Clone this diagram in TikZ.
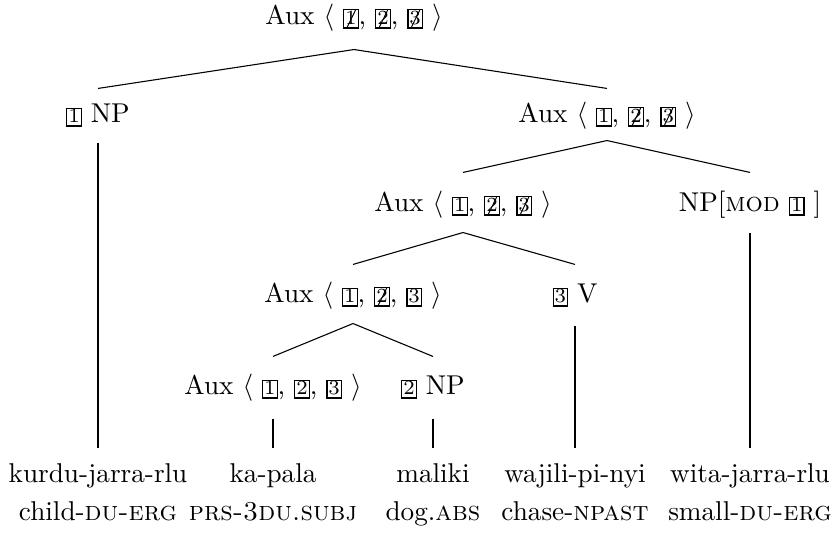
\documentclass[tikz,border=0pt]{standalone}
\usepackage{fontspec}
\usepackage{graphicx}
\newcommand\bxn[1]{{\fboxsep=0pt\fboxrule=0.4pt\fbox{\makebox[4.9pt]{\rule[-0.9pt]{0pt}{6.1pt}\fontsize{7.4}{8}\selectfont #1}}}}
\newcommand\bxs[1]{{\fboxsep=0pt\fboxrule=0.4pt\fbox{\makebox[4.9pt]{\rule[-0.9pt]{0pt}{6.1pt}\fontsize{7.4}{8}\selectfont\rlap{\hspace{0.6pt}\raisebox{-0.8pt}{\rotatebox{64}{\rule{7pt}{0.35pt}}}}#1}}}}
\newcommand\px[1]{#1*0.3676pt}
\tikzset{
  cat/.style={anchor=base, inner sep=0pt, font=\fontsize{10}{12}\selectfont,
    text height=\px{38}, text depth=\px{20}},
  leaf/.style={anchor=base, inner sep=0pt, font=\fontsize{10}{12}\selectfont,
    text height=\px{34}, text depth=\px{4}},
  gloss/.style={anchor=base, inner sep=0pt, font=\fontsize{10}{12}\selectfont},
  branch/.style={line width=0.4pt}
}
\begin{document}
\begin{tikzpicture}[x=0.3676pt, y=-0.3676pt]
\useasboundingbox (0,0) rectangle (835,534);
% internal nodes
\node[cat, text height=\px{20}, text depth=\px{24}] (t0) at (354,25) {Aux $\langle$ \bxs{1}, \bxs{2}, \bxs{3} $\rangle$};
\node[cat, text height=\px{34}, text depth=\px{19}] (n1) at (98,123) {\bxn{1} NP};
\node[cat, text height=\px{34}, text depth=\px{17}] (a1) at (607,123) {Aux $\langle$ \bxn{1}, \bxs{2}, \bxs{3} $\rangle$};
\node[cat, text height=\px{39}] (a2) at (463,212) {Aux $\langle$ \bxn{1}, \bxs{2}, \bxs{3} $\rangle$};
\node[cat, text height=\px{39}] (np2) at (750,212) {NP[\textsc{mod} \bxn{1} ]};
\node[cat] (a3) at (353,303) {Aux $\langle$ \bxn{1}, \bxs{2}, \bxn{3} $\rangle$};
\node[cat, text depth=\px{22}] (v3) at (575,303) {\bxn{3} V};
\node[cat, text depth=\px{23}] (a4) at (273,395) {Aux $\langle$ \bxn{1}, \bxn{2}, \bxn{3} $\rangle$};
\node[cat, text depth=\px{23}] (np4) at (433,395) {\bxn{2} NP};
% leaves
\node[leaf] (w1) at (98,483) {kurdu-jarra-rlu};
\node[leaf] (w2) at (273,483) {ka-pala};
\node[leaf] (w3) at (433,483) {maliki};
\node[leaf] (w4) at (575,483) {wajili-pi-nyi};
\node[leaf] (w5) at (750,483) {wita-jarra-rlu};
% glosses
\node[gloss] (g1) at (98,521) {child-\textsc{du-erg}};
\node[gloss] (g2) at (273,521) {\textsc{prs-3du.subj}};
\node[gloss] (g3) at (433,521) {dog.\textsc{abs}};
\node[gloss] (g4) at (575,521) {chase-\textsc{npast}};
\node[gloss] (g5) at (750,521) {small-\textsc{du-erg}};
% branches
\draw[branch] (n1.north) -- (t0.south) -- (a1.north);
\draw[branch] (a2.north) -- (a1.south) -- (np2.north);
\draw[branch] (a3.north) -- (a2.south) -- (v3.north);
\draw[branch] (a4.north) -- (a3.south) -- (np4.north);
\draw[branch] (n1.south) -- (w1.north);
\draw[branch] (a4.south) -- (w2.north);
\draw[branch] (np4.south) -- (w3.north);
\draw[branch] (v3.south) -- (w4.north);
\draw[branch] (np2.south) -- (w5.north);
\end{tikzpicture}
\end{document}
